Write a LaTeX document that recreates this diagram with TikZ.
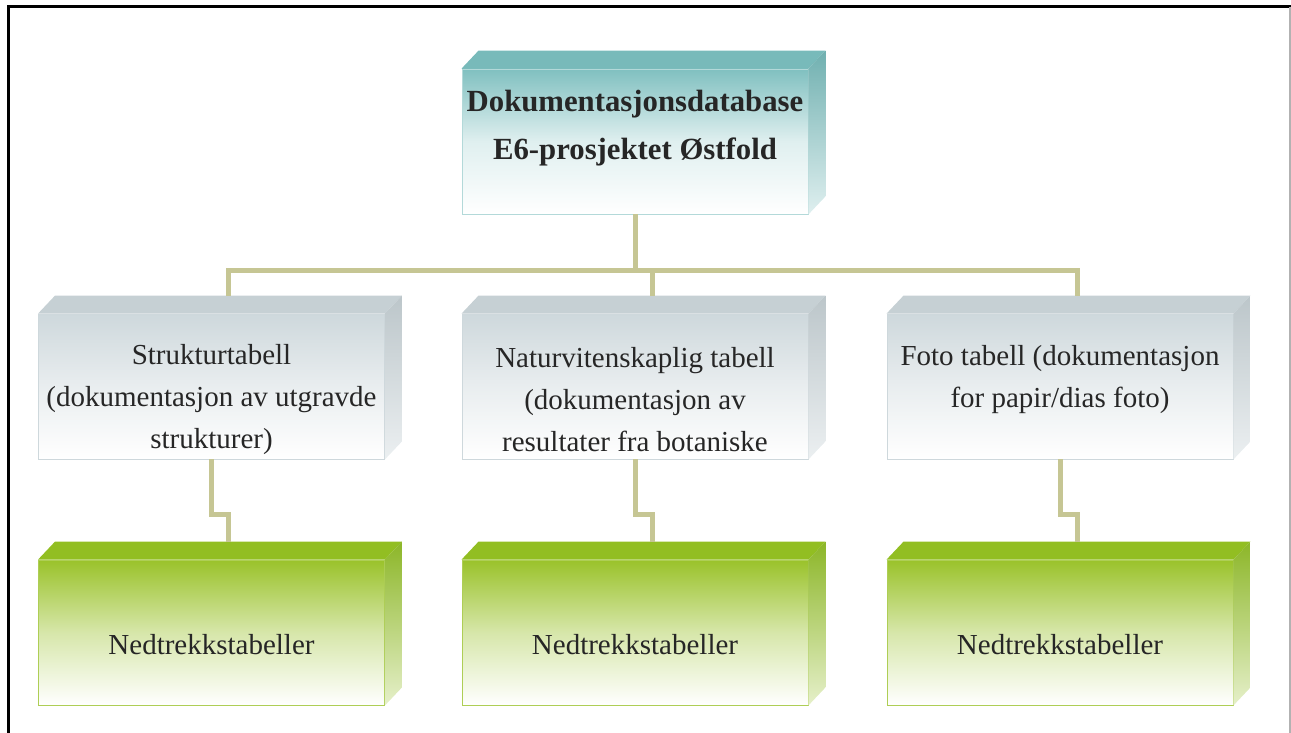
\documentclass[tikz,border=0pt]{standalone}
\usepackage{fontspec}
\setmainfont{Liberation Serif}

\definecolor{linkcol}{RGB}{198,198,148}
\definecolor{dbtop}{RGB}{128,192,192}
\definecolor{dbface}{RGB}{120,186,186}
\definecolor{dbside}{RGB}{112,176,176}
\definecolor{midtop}{RGB}{206,216,220}
\definecolor{midface}{RGB}{198,208,212}
\definecolor{midside}{RGB}{188,198,202}
\definecolor{lowtop}{RGB}{154,194,42}
\definecolor{lowface}{RGB}{146,190,34}
\definecolor{lowside}{RGB}{140,182,40}

% top face and right face of a block node
\newcommand{\prismfaces}[4]{%
  \fill[#2] (#1.north west) -- ++(17,-18) -- ([shift={(17,-18)}]#1.north east) -- (#1.north east) -- cycle;
  \shade[top color=#3,bottom color=#4] (#1.north east) -- ([shift={(17,-18)}]#1.north east)
    -- ([shift={(17,-18)}]#1.south east) -- (#1.south east) -- cycle;}

\begin{document}
\begin{tikzpicture}[x=0.2mm,y=-0.2mm,
    block/.style={minimum width=69.2mm,minimum height=29mm,inner sep=0pt,line width=0.5pt},
    dbblock/.style={block,draw=dbtop!60,top color=dbtop,bottom color=white,middle color=dbtop!25},
    midblock/.style={block,draw=midtop,top color=midtop,bottom color=white,middle color=midtop!45},
    lowblock/.style={block,draw=lowtop!80,top color=lowtop,bottom color=white,middle color=lowtop!40},
    lbl/.style={font=\fontsize{16.5}{23.9}\selectfont,text=black!85,align=center},
    hlbl/.style={font=\bfseries\fontsize{17.5}{27.3}\selectfont,text=black!85,align=center},
    link/.style={draw=linkcol,line width=1mm}]
  \useasboundingbox (0,0) rectangle (1291,733);
  \draw[line width=0.6mm] (8,733) -- (8,7) -- (1291,7);
  \draw[black!30,line width=0.4mm] (1290,7) -- (1290,733);

  % blocks
  \node[dbblock] (db) at (635,141.5) {};
  \node[midblock] (m1) at (211.5,386.5) {};
  \node[midblock] (m2) at (635,386.5) {};
  \node[midblock] (m3) at (1060,386.5) {};
  \node[lowblock] (b1) at (211.5,632.5) {};
  \node[lowblock] (b2) at (635,632.5) {};
  \node[lowblock] (b3) at (1060,632.5) {};

  \prismfaces{db}{dbface}{dbside}{dbtop!25}
  \foreach \n in {m1,m2,m3} {\prismfaces{\n}{midface}{midside}{midtop!40}}
  \foreach \n in {b1,b2,b3} {\prismfaces{\n}{lowface}{lowside}{lowtop!25}}

  % connectors
  \coordinate (bus) at (635,270);
  \draw[link] (db.south) -- (bus) -| ([shift={(17,-18)}]m1.north);
  \draw[link] (bus) -| ([shift={(17,-18)}]m2.north);
  \draw[link] (bus) -| ([shift={(17,-18)}]m3.north);
  \draw[link] (m1.south) -- ++(0,55) -| ([shift={(17,-18)}]b1.north);
  \draw[link] (m2.south) -- ++(0,55) -| ([shift={(17,-18)}]b2.north);
  \draw[link] (m3.south) -- ++(0,55) -| ([shift={(17,-18)}]b3.north);

  % texts
  \node[hlbl] (dbtxt) at (635,128) {Dokumentasjonsdatabase\\E6-prosjektet Østfold};
  \node[lbl] (m1txt) at (211.5,400) {Strukturtabell\\(dokumentasjon av utgravde\\strukturer)};
  \node[lbl] (m2txt) at (635,400) {Naturvitenskaplig tabell\\(dokumentasjon av\\resultater fra botaniske};
  \node[lbl] (m3txt) at (1060,380) {Foto tabell (dokumentasjon\\for papir/dias foto)};
  \node[lbl] (b1txt) at (211.5,645) {Nedtrekkstabeller};
  \node[lbl] (b2txt) at (635,645) {Nedtrekkstabeller};
  \node[lbl] (b3txt) at (1060,645) {Nedtrekkstabeller};
\end{tikzpicture}
\end{document}
